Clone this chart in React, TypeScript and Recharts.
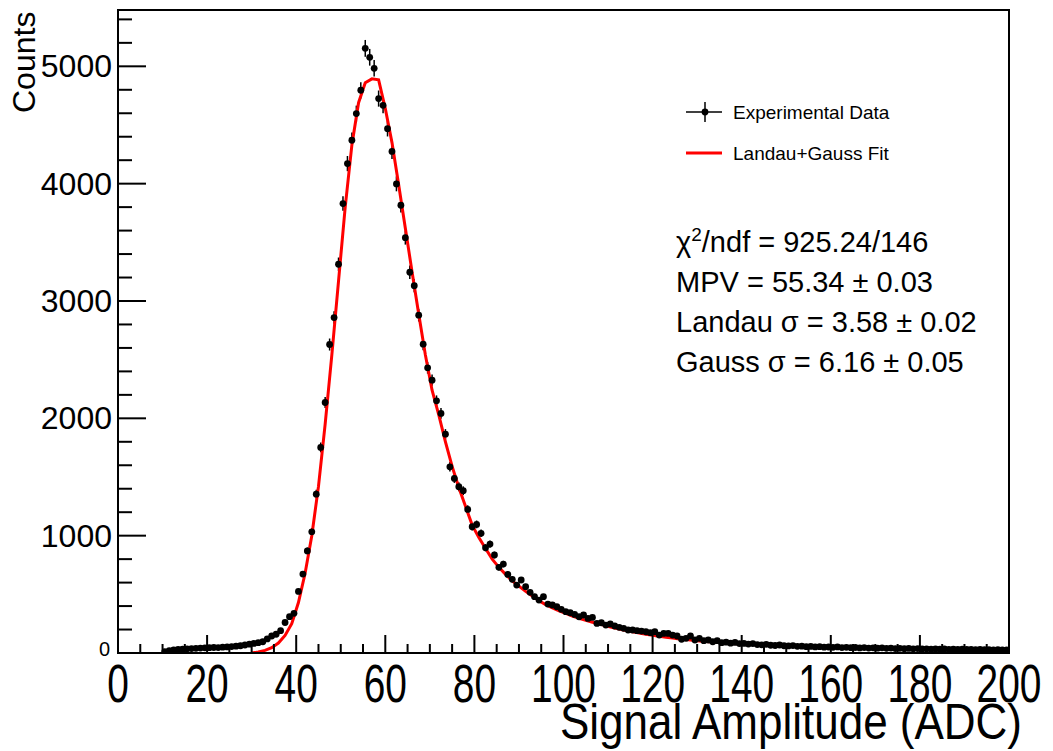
import {
  ComposedChart,
  Scatter,
  Line,
  XAxis,
  YAxis,
  ErrorBar,
  ReferenceArea,
} from 'recharts';

// histogram: 1 ADC bins starting at 10
const binLow = 10;
const binWidth = 1;
const counts = [
  12, 20, 26, 30, 33, 36, 38, 40, 42, 44,
  45, 47, 46, 50, 52, 55, 58, 62, 68, 75,
  82, 88, 96, 120, 145, 160, 190, 260, 310, 338,
  525, 673, 870, 1033, 1354, 1752, 2135, 2629, 2859, 3313,
  3830, 4171, 4370, 4597, 4796, 5153, 5077, 4983, 4725, 4668,
  4469, 4275, 3998, 3816, 3540, 3245, 3130, 2879, 2632, 2430,
  2325, 2149, 2042, 1865, 1587, 1488, 1417, 1383, 1224, 1076,
  1096, 1020, 897, 928, 835, 730, 758, 670, 628, 579,
  622, 565, 517, 480, 451, 480, 417, 409, 394, 372,
  352, 343, 329, 309, 324, 295, 303, 252, 258, 238,
  247, 230, 219, 210, 196, 196, 190, 187, 181, 173,
  181, 153, 167, 167, 153, 145, 117, 125, 145, 111,
  125, 105, 111, 96, 105, 88, 92, 84, 90, 80,
  82, 76, 80, 72, 70, 74, 66, 64, 68, 62,
  60, 63, 57, 58, 54, 56, 52, 54, 50, 51,
  48, 52, 46, 48, 45, 47, 43, 46, 42, 44,
  41, 44, 40, 42, 38, 40, 37, 39, 36, 38,
  34, 36, 33, 35, 32, 34, 31, 33, 30, 32,
  30, 31, 28, 30, 28, 29, 27, 28, 26, 27,
];

// Landau+Gauss fit curve, sampled every 1.5 ADC from 30 to 180
const fitStart = 30;
const fitStep = 1.5;
const fitValues = [
  0, 8, 22, 45, 85, 150, 250, 430, 680, 1000,
  1420, 1950, 2540, 3170, 3800, 4330, 4690, 4860, 4893, 4885,
  4640, 4350, 3990, 3620, 3250, 2890, 2540, 2240, 2030, 1800,
  1590, 1410, 1250, 1090, 985, 890, 800, 730, 670, 615,
  570, 525, 485, 445, 412, 385, 360, 338, 315, 296,
  278, 262, 248, 232, 218, 205, 192, 180, 170, 160,
  151, 143, 135, 127, 120, 114, 108, 103, 98, 93,
  89, 85, 81, 78, 75, 72, 69, 67, 64, 62,
  60, 58, 56, 55, 53, 52, 50, 49, 48, 47,
  46, 45, 44, 43, 42, 41, 41, 40, 40, 39,
  39,
];

const xTicks = [0, 5, 10, 15, 20, 25, 30, 35, 40, 45, 50, 55, 60, 65, 70, 75, 80, 85, 90, 95, 100,
  105, 110, 115, 120, 125, 130, 135, 140, 145, 150, 155, 160, 165, 170, 175, 180, 185, 190, 195, 200];
const yTicks = [0, 200, 400, 600, 800, 1000, 1200, 1400, 1600, 1800, 2000, 2200, 2400, 2600, 2800,
  3000, 3200, 3400, 3600, 3800, 4000, 4200, 4400, 4600, 4800, 5000, 5200, 5400];

const stats = [
  { key: 'chi', text: <>χ<tspan dy={-11} fontSize={19}>2</tspan><tspan dy={11}>/ndf = 925.24/146</tspan></> },
  { key: 'mpv', text: <>MPV = 55.34 ± 0.03</> },
  { key: 'ls', text: <>Landau σ = 3.58 ± 0.02</> },
  { key: 'gs', text: <>Gauss σ = 6.16 ± 0.05</> },
];

const points = counts.map((c, i) => ({
  x: binLow + binWidth * (i + 0.5),
  y: c,
  err: Math.sqrt(c),
}));
const fitPoints = fitValues.map((v, i) => ({ x: fitStart + fitStep * i, y: v }));

const FONT = '"Liberation Sans", Arial, Helvetica, sans-serif';

function XTick(props: any) {
  const { x, y, payload } = props;
  const v = payload.value;
  const major = v % 20 === 0;
  return (
    <g>
      <line x1={x} y1={y} x2={x} y2={y - (major ? 18 : 9)} stroke="#000" strokeWidth={2} />
      {major && (
        <text
          transform={`translate(${x},${y + 49}) scale(0.72,1)`}
          textAnchor="middle"
          fontSize={54}
          fontFamily={FONT}
          fill="#000"
        >
          {v}
        </text>
      )}
    </g>
  );
}

function YTick(props: any) {
  const { x, y, payload } = props;
  const v = payload.value;
  const major = v % 1000 === 0;
  return (
    <g>
      <line x1={x} y1={y} x2={x + (major ? 28 : 14)} y2={y} stroke="#000" strokeWidth={2} />
      {major && v > 0 && (
        <text x={x - 6} y={y + 11} textAnchor="end" fontSize={32} fontFamily={FONT} fill="#000">
          {v}
        </text>
      )}
      {v === 0 && (
        <text x={x - 8} y={y + 3} textAnchor="end" fontSize={20} fontFamily={FONT} fill="#000">
          0
        </text>
      )}
    </g>
  );
}

const Dot = (props: any) => <circle cx={props.cx} cy={props.cy} r={3.4} fill="#000" />;

export default function App() {
  return (
    <div style={{ position: 'absolute', left: 0, top: 0, width: 1053, height: 751, background: '#fff' }}>
      <ComposedChart width={1053} height={751} margin={{ top: 10, right: 44, bottom: 0, left: 0 }}>
        <XAxis
          dataKey="x"
          type="number"
          domain={[0, 200]}
          ticks={xTicks}
          interval={0}
          height={98}
          tickSize={0}
          tickMargin={0}
          tickLine={false}
          tick={<XTick />}
          axisLine={{ stroke: '#000', strokeWidth: 2 }}
          allowDataOverflow
        />
        <YAxis
          dataKey="y"
          type="number"
          domain={[0, 5480]}
          ticks={yTicks}
          interval={0}
          width={118}
          tickSize={0}
          tickMargin={0}
          tickLine={false}
          tick={<YTick />}
          axisLine={{ stroke: '#000', strokeWidth: 2 }}
          allowDataOverflow
        />
        <ReferenceArea x1={0} x2={200} y1={0} y2={5480} fill="none" stroke="#000" strokeWidth={2} />
        <Scatter data={points} dataKey="y" shape={<Dot />} isAnimationActive={false}>
          <ErrorBar dataKey="err" direction="y" width={0} stroke="#000" strokeWidth={1.5} isAnimationActive={false} />
        </Scatter>
        <Line
          data={fitPoints}
          dataKey="y"
          type="linear"
          stroke="#ff0000"
          strokeWidth={3}
          dot={false}
          activeDot={false}
          isAnimationActive={false}
        />
      </ComposedChart>
      <svg
        width={1053}
        height={751}
        style={{ position: 'absolute', left: 0, top: 0, pointerEvents: 'none' }}
        fontFamily={FONT}
      >
        <text transform="translate(35,113) rotate(-90)" fontSize={32} fill="#000">
          Counts
        </text>
        <text
          transform="translate(1022,739) scale(0.88,1)"
          textAnchor="end"
          fontSize={50}
          fill="#000"
        >
          Signal Amplitude (ADC)
        </text>
        {/* legend */}
        <line x1={686} y1={112} x2={722} y2={112} stroke="#000" strokeWidth={1.5} />
        <line x1={705} y1={102} x2={705} y2={122} stroke="#000" strokeWidth={1.5} />
        <circle cx={705} cy={112} r={3.4} fill="#000" />
        <text x={733} y={119} fontSize={19} fill="#000">Experimental Data</text>
        <line x1={686} y1={153} x2={722} y2={153} stroke="#ff0000" strokeWidth={3} />
        <text x={733} y={160} fontSize={19} fill="#000">Landau+Gauss Fit</text>
        {stats.map((s, i) => (
          <text key={s.key} x={676} y={252 + i * 40} fontSize={29} fill="#000">
            {s.text}
          </text>
        ))}
      </svg>
    </div>
  );
}
